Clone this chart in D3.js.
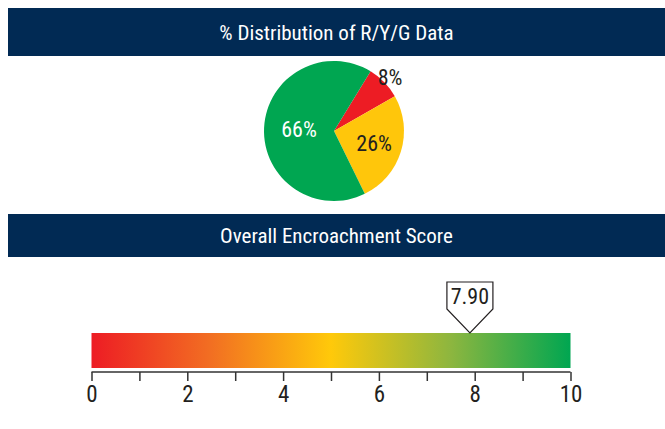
<html>
    <head>
        <script src="https://d3js.org/d3.v7.min.js" charset="utf-8"></script>
        <style>
            body { margin: 0; background: #fff; }
            text { font-family: "Roboto Condensed", sans-serif; font-weight: 400; }
        </style>
    </head>

    <body>
    </body>

    <script>
        // chart data
        var sliceNames = ["Red", "Yellow", "Green"];
        var slicePercents = [8, 26, 66];
        var sliceColors = ["#ed1c24", "#ffc60b", "#00a651"];

        var scoreValue = 7.90;
        var scoreTicks = [0, 1, 2, 3, 4, 5, 6, 7, 8, 9, 10];
        var scoreLabels = ["0", "", "2", "", "4", "", "6", "", "8", "", "10"];
        var gradientStops = [0, 2.5, 5, 7.5, 10];
        var gradientColors = ["#ed1c24", "#f26f22", "#ffc90a", "#8db63f", "#00a651"];

        var titles = ["% Distribution of R/Y/G Data", "Overall Encroachment Score"];

        var width = 665;
        var height = 429;
        var navy = "#012a54";

        var svg = d3.select("body").append("svg")
            .attr("width", width)
            .attr("height", height);

        // header bands
        var headerY = [8, 214];
        var headerH = [48, 43];
        titles.forEach(function (t, i) {
            svg.append("rect")
                .attr("x", 8)
                .attr("y", headerY[i])
                .attr("width", width - 8)
                .attr("height", headerH[i])
                .attr("fill", navy);
            svg.append("text")
                .attr("x", (width + 8) / 2)
                .attr("y", headerY[i] + headerH[i] / 2 + 7.5)
                .attr("text-anchor", "middle")
                .attr("fill", "#fff")
                .style("font-size", "21px")
                .text(t);
        });

        // pie
        var cx = 334, cy = 131, radius = 70;
        var pie = d3.pie().sort(null)
            .startAngle(0.55)
            .endAngle(0.55 + 2 * Math.PI);
        var arcs = pie(slicePercents);
        var arc = d3.arc().innerRadius(0).outerRadius(radius);

        var pieG = svg.append("g").attr("transform", "translate(" + cx + "," + cy + ")");
        pieG.selectAll("path")
            .data(arcs)
            .enter().append("path")
            .attr("d", arc)
            .attr("fill", function (d, i) { return sliceColors[i]; });

        // small slices get their label outside
        pieG.selectAll("text.pct")
            .data(arcs)
            .enter().append("text")
            .attr("class", "pct")
            .attr("transform", function (d) {
                var r = d.value < 10 ? 78 : (d.value > 50 ? 35 : 42);
                var a = (d.startAngle + d.endAngle) / 2;
                return "translate(" + (Math.sin(a) * r) + "," + (-Math.cos(a) * r + 8) + ")";
            })
            .attr("text-anchor", "middle")
            .attr("fill", function (d) { return d.value > 50 ? "#fff" : "#231f20"; })
            .style("font-size", "22px")
            .text(function (d) { return d.value + "%"; });

        // score bar
        var x = d3.scaleLinear().domain([0, 10]).range([91.5, 570.5]);
        var barTop = 333, barH = 35;

        var defs = svg.append("defs");
        var grad = defs.append("linearGradient")
            .attr("id", "scoreGrad")
            .attr("x1", "0%").attr("x2", "100%")
            .attr("y1", "0%").attr("y2", "0%");
        grad.selectAll("stop")
            .data(gradientStops)
            .enter().append("stop")
            .attr("offset", function (d) { return (d * 10) + "%"; })
            .attr("stop-color", function (d, i) { return gradientColors[i]; });

        svg.append("rect")
            .attr("x", x(0))
            .attr("y", barTop)
            .attr("width", x(10) - x(0))
            .attr("height", barH)
            .attr("fill", "url(#scoreGrad)");

        // axis
        var axis = d3.axisBottom(x)
            .tickValues(scoreTicks)
            .tickSize(9)
            .tickPadding(5)
            .tickFormat(function (d, i) { return scoreLabels[i]; });
        var axisG = svg.append("g")
            .attr("transform", "translate(0," + (barTop + barH + 4) + ")")
            .call(axis);
        axisG.attr("font-family", null);
        axisG.select(".domain").attr("stroke", "#333").attr("stroke-width", 1.5)
            .attr("d", "M" + x(0) + ",0H" + x(10));
        axisG.selectAll(".tick line").attr("stroke", "#333").attr("stroke-width", 1.5);
        axisG.selectAll(".tick text")
            .attr("fill", "#231f20")
            .style("font-size", "23px");

        // score marker
        var mx = x(scoreValue);
        var boxW = 46, boxTop = 282, boxBottom = 309;
        var tipY = barTop;
        svg.append("path")
            .attr("d", "M" + (mx - boxW / 2) + "," + boxTop +
                "H" + (mx + boxW / 2) + "V" + boxBottom +
                "L" + mx + "," + tipY +
                "L" + (mx - boxW / 2) + "," + boxBottom + "Z")
            .attr("fill", "#fff")
            .attr("stroke", "#231f20")
            .attr("stroke-width", 1.2);
        svg.append("text")
            .attr("x", mx)
            .attr("y", 304)
            .attr("text-anchor", "middle")
            .attr("fill", "#231f20")
            .style("font-size", "22px")
            .text(scoreValue.toFixed(2));
    </script>
</html>
